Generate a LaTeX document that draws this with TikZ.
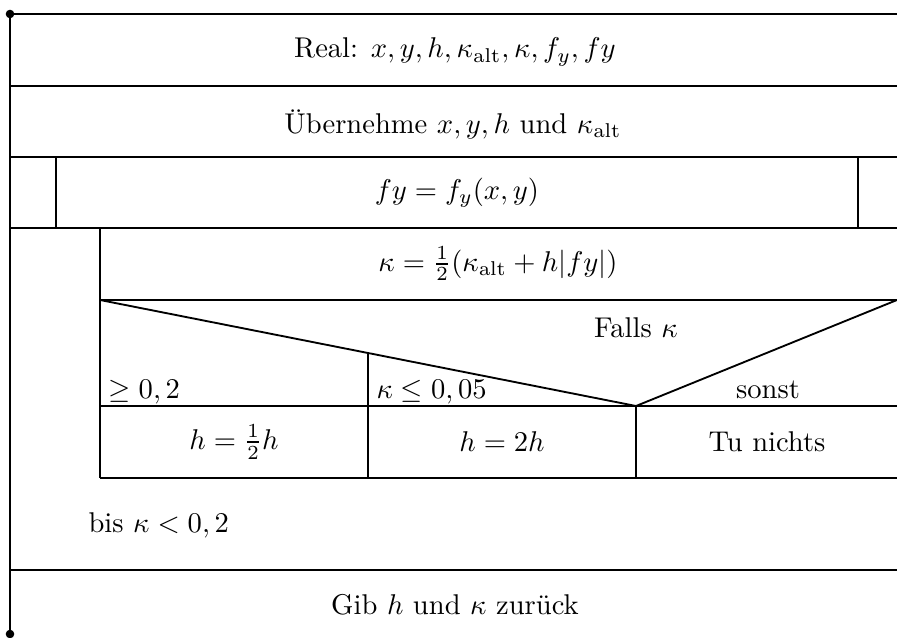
\documentclass[tikz,border=0pt]{standalone}
\begin{document}
\begin{tikzpicture}[x=0.35pt,y=-0.35pt,
  heavy/.style={line width=0.9pt},
  light/.style={line width=0.45pt},
  diag/.style={line width=0.65pt},
  txt/.style={inner sep=0pt, font=\fontsize{10}{12}\selectfont},
  dotmark/.style={fill=black, circle, inner sep=0pt, minimum size=3pt}]
\useasboundingbox (0,0) rectangle (897,637);
% frame
\draw[heavy] (10,14) -- (897,14);
\draw[light] (10,14) -- (10,634);
\node[dotmark] (d1) at (10,14) {};
\node[dotmark] (d2) at (10,634) {};
\draw[heavy] (10,86) -- (897,86);
\draw[heavy] (10,157) -- (897,157);
\draw[light] (56,157) -- (56,228);
\draw[light] (858,157) -- (858,228);
\draw[heavy] (10,228) -- (897,228);
% loop body
\draw[light] (100,228) -- (100,478);
\draw[heavy] (100,300) -- (897,300);
\draw[diag] (100,300) -- (636,406) -- (897,300);
\draw[light] (368,353) -- (368,478);
\draw[light] (100,406) -- (897,406);
\draw[diag] (636,406) -- (636,478);
\draw[light] (100,478) -- (897,478);
\draw[heavy] (10,570) -- (897,570);
% texts
\node[txt] (t1) at (455,52) {Real: $x, y, h, \kappa_{\mathrm{alt}}, \kappa, f_y, fy$};
\node[txt] (t2) at (453,124) {Übernehme $x, y, h$ und $\kappa_{\mathrm{alt}}$};
\node[txt] (t3) at (457,193) {$fy = f_y(x,y)$};
\node[txt] (t4) at (498,264) {$\kappa = \frac{1}{2}(\kappa_{\mathrm{alt}} + h|fy|)$};
\node[txt] (t5) at (636,328) {Falls $\kappa$};
\node[txt, anchor=base west] (c1) at (108,398) {$\geq 0,2$};
\node[txt, anchor=base west] (c2) at (376,398) {$\kappa \leq 0,05$};
\node[txt, anchor=base] (c3) at (768,398) {sonst};
\node[txt] (b1) at (234,442) {$h = \frac{1}{2}h$};
\node[txt] (b2) at (502,442) {$h = 2h$};
\node[txt] (b3) at (767,442) {Tu nichts};
\node[txt, anchor=west] (u1) at (88,525) {bis $\kappa < 0,2$};
\node[txt] (g1) at (455,605) {Gib $h$ und $\kappa$ zurück};
\end{tikzpicture}
\end{document}
